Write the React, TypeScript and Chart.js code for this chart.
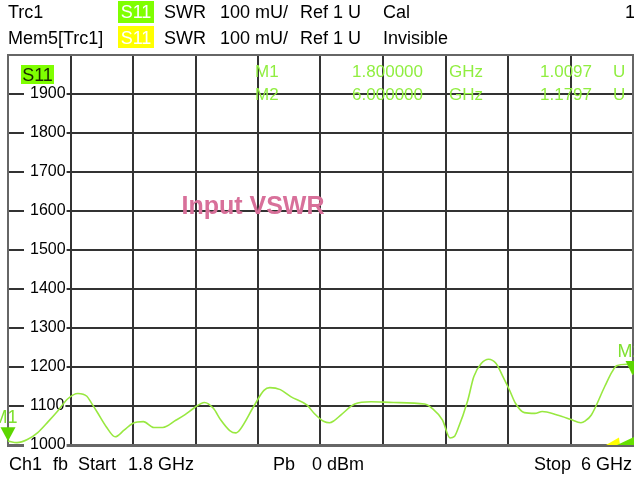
import React, { useEffect, useRef } from "react";
import { Chart, registerables } from "chart.js";

Chart.register(...registerables);

// ---- data ----
const freqGHz = [
  1.80, 1.86, 1.93, 2.00, 2.07, 2.14, 2.20, 2.27, 2.33, 2.36, 2.40, 2.46, 2.52, 2.58,
  2.64, 2.71, 2.78, 2.84, 2.93, 2.99, 3.05, 3.12, 3.18, 3.23, 3.29, 3.33, 3.36, 3.45,
  3.52, 3.56, 3.63, 3.70, 3.81, 3.86, 3.92, 3.96, 3.99, 4.04, 4.13, 4.24, 4.39, 4.60,
  4.65, 4.72, 4.77, 4.80, 4.82, 4.89, 4.93, 4.98, 5.03, 5.08, 5.12, 5.17, 5.21, 5.27,
  5.34, 5.39, 5.49, 5.58, 5.65, 5.68, 5.72, 5.81, 5.86, 5.89, 5.96, 6.00,
];
const swrMilliU = [
  1010, 1006, 1014, 1032, 1060, 1090, 1118, 1132, 1125, 1108, 1084, 1047, 1021, 1038,
  1056, 1060, 1045, 1045, 1064, 1078, 1095, 1109, 1094, 1064, 1037, 1031, 1040, 1098,
  1140, 1147, 1142, 1124, 1102, 1080, 1061, 1057, 1062, 1078, 1105, 1111, 1109, 1105,
  1094, 1064, 1018, 1022, 1038, 1115, 1175, 1209, 1220, 1209, 1180, 1141, 1107, 1083,
  1081, 1086, 1077, 1066, 1057, 1062, 1077, 1150, 1188, 1203, 1207, 1180,
];
const xGridGHz = [1.8, 2.22, 2.64, 3.06, 3.48, 3.9, 4.32, 4.74, 5.16, 5.58, 6.0];
const yTicks = [1000, 1100, 1200, 1300, 1400, 1500, 1600, 1700, 1800, 1900];

const markerNames = ["M1", "M2"];
const markerFreqGHz = [1.8, 6.0];
const markerSwrMilliU = [1009.7, 1179.7];

const headerRow1 = ["Trc1", "SWR", "100 mU/", "Ref 1 U", "Cal", "1"];
const headerRow2 = ["Mem5[Trc1]", "SWR", "100 mU/", "Ref 1 U", "Invisible"];
const footerRow = ["Ch1", "fb", "Start", "1.8 GHz", "Pb", "0 dBm", "Stop", "6 GHz"];
const traceName = "S11";
const chartTitle = "Input VSWR";

// ---- layout (positions only) ----
const FONT = '"Liberation Sans", Arial, sans-serif';
const header1X = [8, 164, 220, 300, 383, 625];
const header2X = [8, 164, 220, 300, 383];
const footerX = [9, 53, 78, 128, 273, 312, 534, 581];

const overlay = {
  id: "overlay",
  beforeDatasetsDraw(chart: any) {
    const { ctx, chartArea: a } = chart;
    ctx.save();
    // top/right frame
    ctx.strokeStyle = "#666";
    ctx.lineWidth = 2;
    ctx.beginPath();
    ctx.moveTo(a.left, a.top);
    ctx.lineTo(a.right, a.top);
    ctx.lineTo(a.right, a.bottom);
    ctx.stroke();
    // title
    ctx.font = `bold 25px ${FONT}`;
    ctx.fillStyle = "#d8709a";
    ctx.textAlign = "center";
    ctx.textBaseline = "alphabetic";
    ctx.fillText(chartTitle, 253, 214);
    ctx.restore();
  },
  afterDatasetsDraw(chart: any) {
    const { ctx, scales } = chart;
    const xs = scales.x, ys = scales.y;
    ctx.save();
    // markers
    markerNames.forEach((name, i) => {
      const px = xs.getPixelForValue(markerFreqGHz[i]);
      const py = ys.getPixelForValue(markerSwrMilliU[i]);
      ctx.fillStyle = "#5cd600";
      ctx.beginPath();
      ctx.moveTo(px - 7.5, py - 14);
      ctx.lineTo(px + 7.5, py - 14);
      ctx.lineTo(px, py);
      ctx.closePath();
      ctx.fill();
      ctx.font = `18px ${FONT}`;
      ctx.fillStyle = "#7fe030";
      ctx.textAlign = "center";
      ctx.textBaseline = "alphabetic";
      ctx.fillText(name, px - 3, py - 18);
    });
    // marker readouts
    ctx.font = `17px ${FONT}`;
    ctx.fillStyle = "#90ee40";
    ctx.textBaseline = "alphabetic";
    markerNames.forEach((name, i) => {
      const by = 77 + i * 23;
      ctx.textAlign = "left";
      ctx.fillText(name, 255, by);
      ctx.textAlign = "right";
      ctx.fillText(markerFreqGHz[i].toFixed(6), 423, by);
      ctx.textAlign = "left";
      ctx.fillText("GHz", 449, by);
      ctx.textAlign = "right";
      ctx.fillText((markerSwrMilliU[i] / 1000).toFixed(4), 592, by);
      ctx.textAlign = "left";
      ctx.fillText("U", 613, by);
    });
    // trace badge inside plot
    ctx.fillStyle = "#7fff00";
    ctx.fillRect(21, 65, 33, 19);
    ctx.fillStyle = "#1a2a00";
    ctx.font = `18px ${FONT}`;
    ctx.textAlign = "center";
    ctx.fillText(traceName, 37.5, 81);
    // limit indicators bottom right
    ctx.fillStyle = "#ffff00";
    ctx.beginPath();
    ctx.moveTo(606, 445);
    ctx.lineTo(619, 437.5);
    ctx.lineTo(620, 445);
    ctx.closePath();
    ctx.fill();
    ctx.fillStyle = "#66e000";
    ctx.beginPath();
    ctx.moveTo(617, 445);
    ctx.lineTo(634, 437);
    ctx.lineTo(634, 445);
    ctx.closePath();
    ctx.fill();
    ctx.restore();
  },
  afterDraw(chart: any) {
    const { ctx } = chart;
    ctx.save();
    ctx.textBaseline = "alphabetic";
    ctx.font = `18px ${FONT}`;
    ctx.fillStyle = "#000";
    ctx.textAlign = "left";
    headerRow1.forEach((t, i) => ctx.fillText(t, header1X[i], 18));
    headerRow2.forEach((t, i) => ctx.fillText(t, header2X[i], 44));
    footerRow.forEach((t, i) => ctx.fillText(t, footerX[i], 470));
    // header badges
    ctx.fillStyle = "#7fff00";
    ctx.fillRect(118, 1, 36, 22);
    ctx.fillStyle = "#ffff00";
    ctx.fillRect(118, 26, 36, 22);
    ctx.fillStyle = "#ffffff";
    ctx.textAlign = "center";
    ctx.fillText(traceName, 136, 18);
    ctx.fillText(traceName, 136, 44);
    ctx.restore();
  },
};

export default function App() {
  const ref = useRef<HTMLCanvasElement>(null);
  useEffect(() => {
    document.body.style.margin = "0";
    document.body.style.overflow = "hidden";
    const chart = new Chart(ref.current!, {
      type: "line",
      data: {
        datasets: [
          {
            data: freqGHz.map((f, i) => ({ x: f, y: swrMilliU[i] })),
            borderColor: "#98e840",
            borderWidth: 1.6,
            pointRadius: 0,
            cubicInterpolationMode: "monotone",
            fill: false,
          },
        ],
      },
      options: {
        animation: false,
        responsive: false,
        devicePixelRatio: 1,
        events: [],
        layout: { padding: { left: 8, top: 55, right: 1, bottom: 32 } },
        plugins: { legend: { display: false }, tooltip: { enabled: false } },
        scales: {
          x: {
            type: "linear",
            min: 1.8,
            max: 6,
            afterBuildTicks: (s: any) => {
              s.ticks = xGridGHz.map((v) => ({ value: v }));
            },
            ticks: { display: false },
            grid: { color: "#333", lineWidth: 2, drawTicks: false },
            border: { display: true, color: "#666", width: 3 },
          },
          y: {
            type: "linear",
            min: 1000,
            max: 2000,
            afterBuildTicks: (s: any) => {
              s.ticks = yTicks.map((v) => ({ value: v }));
            },
            afterFit: (s: any) => {
              s.width = 0;
            },
            ticks: {
              mirror: true,
              padding: 22,
              crossAlign: "near",
              color: "#000",
              font: { family: FONT, size: 16 },
              callback: (v: any) => String(v),
              showLabelBackdrop: true,
              backdropColor: "#ffffff",
              backdropPadding: { left: 6, right: 1, top: 0, bottom: 0 },
            },
            grid: { color: "#333", lineWidth: 2, drawTicks: false },
            border: { display: true, color: "#666", width: 2 },
          },
        },
      },
      plugins: [overlay],
    } as any);
    return () => chart.destroy();
  }, []);
  return (
    <div style={{ position: "absolute", left: 0, top: 0, width: 634, height: 477, background: "#fff" }}>
      <canvas ref={ref} width={634} height={477} style={{ display: "block", width: 634, height: 477 }} />
    </div>
  );
}
